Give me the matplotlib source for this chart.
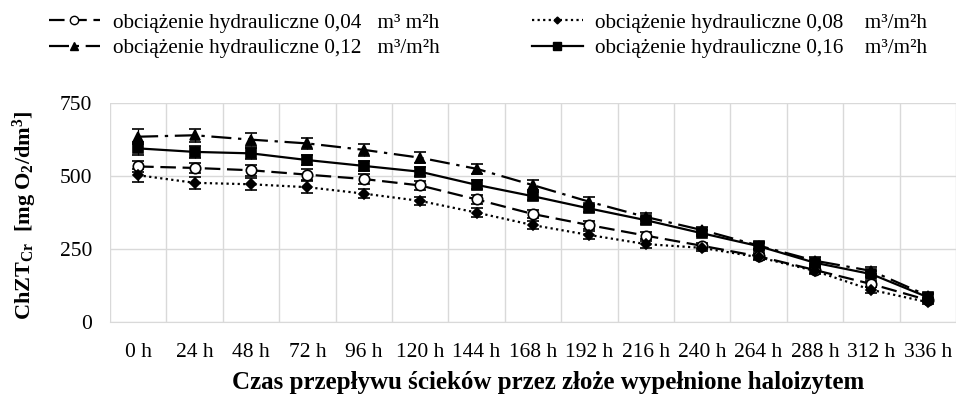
import matplotlib.pyplot as plt
import numpy as np
from matplotlib.lines import Line2D

plt.rcParams['font.family'] = ['Liberation Serif', 'DejaVu Serif']
plt.rcParams['mathtext.fontset'] = 'custom'
plt.rcParams['mathtext.rm'] = 'Liberation Serif'
plt.rcParams['mathtext.bf'] = 'Liberation Serif:bold'
plt.rcParams['mathtext.it'] = 'Liberation Serif:italic'

hours = ['0 h', '24 h', '48 h', '72 h', '96 h', '120 h', '144 h', '168 h',
         '192 h', '216 h', '240 h', '264 h', '288 h', '312 h', '336 h']

# ChZT values
q004 = [533, 528, 520, 505, 490, 468, 420, 370, 332, 296, 261, 225, 178, 130, 75]
q008 = [503, 477, 472, 462, 440, 415, 375, 332, 298, 267, 254, 222, 175, 110, 68]
q012 = [635, 640, 625, 612, 590, 563, 525, 469, 412, 360, 315, 262, 210, 175, 90]
q016 = [595, 583, 578, 555, 535, 515, 470, 431, 389, 349, 304, 260, 203, 164, 85]

err004 = [20, 18, 18, 18, 18, 16, 15, 14, 13, 12, 10, 10, 10, 10, 8]
err008 = [22, 20, 20, 20, 16, 15, 15, 14, 13, 12, 10, 10, 10, 10, 8]
err012 = [25, 22, 22, 20, 20, 18, 18, 16, 15, 12, 12, 12, 12, 12, 10]
err016 = [22, 20, 20, 18, 18, 16, 15, 14, 13, 12, 10, 10, 10, 10, 10]

labels = ['obciążenie hydrauliczne 0,04   m³ m²h',
          'obciążenie hydrauliczne 0,08    m³/m²h',
          'obciążenie hydrauliczne 0,12   m³/m²h',
          'obciążenie hydrauliczne 0,16    m³/m²h']

x = np.arange(len(hours))

fig = plt.figure(figsize=(9.56, 4.16), dpi=100)
ax = fig.add_axes([0.115, 0.226, 0.885, 0.526])

styles = [
    dict(ls=(0, (7, 3)), marker='o', mfc='white', ms=7.5),
    dict(ls=(0, (1, 1.5)), marker='D', mfc='black', ms=5),
    dict(ls=(0, (9, 3, 1.5, 3)), marker='^', mfc='black', ms=7.5),
    dict(ls='-', marker='s', mfc='black', ms=7.5),
]
series = [q004, q008, q012, q016]
errs = [err004, err008, err012, err016]

for y, e, st in zip(series, errs, styles):
    ax.errorbar(x, y, yerr=e, color='black', ecolor='black', elinewidth=0.9,
                capsize=4, capthick=0.9, lw=1.6, ls=st['ls'], marker=st['marker'],
                mfc=st['mfc'], mec='black', ms=st['ms'], mew=1.2)

ax.set_xlim(-0.5, 14.5)
ax.set_ylim(0, 750)
ax.set_yticks([0, 250, 500, 750])
ax.set_xticks(x)
ax.set_xticklabels(hours)
ax.set_xticks(np.arange(-0.5, 15, 1), minor=True)
ax.tick_params(axis='both', which='both', length=0, labelsize=15.5)
ax.tick_params(axis='x', pad=15)
ax.tick_params(axis='y', pad=13)
ax.grid(True, axis='y', which='major', color='#d9d9d9', lw=1)
ax.grid(True, axis='x', which='minor', color='#d9d9d9', lw=1)
for s in ['top', 'right', 'left']:
    ax.spines[s].set_visible(False)
ax.spines['bottom'].set_color('#d9d9d9')
ax.set_axisbelow(True)

ax.set_ylabel(r'$\mathbf{ChZT_{Cr}}$  $\mathbf{[mg\ O_2/dm^3]}$', fontsize=16)
ax.yaxis.set_label_coords(-0.084, 0.49)
fig.text(548 / 956, 1 - 383 / 416,
         'Czas przepływu ścieków przez złoże wypełnione haloizytem',
         fontsize=18, fontweight='bold', ha='center', va='center')

handles = []
for st in styles:
    handles.append(Line2D([], [], color='black', lw=1.6, ls=st['ls'], marker=st['marker'],
                          mfc=st['mfc'], mec='black', ms=st['ms'] - 1.5))
order = [0, 2, 1, 3]
fig.legend([handles[i] for i in order], [labels[i] for i in order], ncol=2,
           loc='upper left', bbox_to_anchor=(0.031, 1.015), frameon=False,
           fontsize=15.3, handlelength=2.4, columnspacing=4.35, handletextpad=0.6,
           labelspacing=0.25)

fig.savefig('out.png', dpi=100)
